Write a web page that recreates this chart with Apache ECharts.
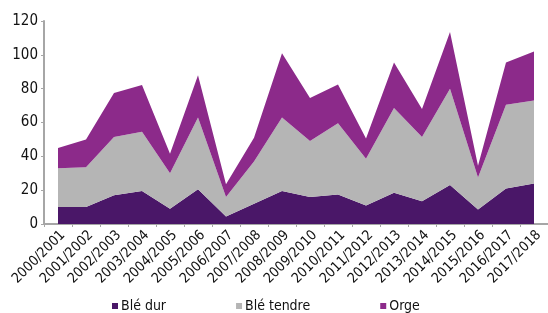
<!DOCTYPE html>
<html>
<head>
<meta charset="utf-8">
<script src="https://cdn.jsdelivr.net/npm/echarts@6/dist/echarts.min.js"></script>
<style>
  html, body { margin: 0; padding: 0; background: #fff; }
  #chart { width: 548px; height: 313px; }
</style>
</head>
<body>
<div id="chart"></div>
<script>
// campagnes
const campagnes = [
  '2000/2001', '2001/2002', '2002/2003', '2003/2004', '2004/2005', '2005/2006',
  '2006/2007', '2007/2008', '2008/2009', '2009/2010', '2010/2011', '2011/2012',
  '2012/2013', '2013/2014', '2014/2015', '2015/2016', '2016/2017', '2017/2018'
]
const bleDur = [10, 10, 17, 19.5, 9, 20.5, 4.5, 12, 19.5, 16, 17.5, 11, 18.5, 13.5, 23, 8.5, 21, 24]
const bleTendre = [23, 23.5, 34.5, 35, 21, 42.5, 11.5, 25, 43.5, 33, 42, 27.5, 50, 38, 57, 19, 49.5, 49]
const orge = [12, 16.5, 26, 27.7, 11.5, 25, 7.5, 14, 38, 25.5, 23, 12, 27, 16.5, 33.5, 7, 25, 29]
const yTicks = { min: 0, max: 120, interval: 20 }

const FONT = '"Liberation Sans Narrow", "DejaVu Sans Condensed", sans-serif'
const colors = { dur: '#4a1768', tendre: '#b5b5b5', orge: '#8c2a8a' }

function areaSerie(name, data, color) {
  return {
    name,
    type: 'line',
    stack: 'total',
    data,
    symbol: 'none',
    lineStyle: { width: 0 },
    itemStyle: { color },
    areaStyle: { color, opacity: 1 },
  }
}

const chart = echarts.init(document.getElementById('chart'))
chart.setOption({
  animation: false,
  textStyle: { fontFamily: FONT },
  grid: { left: 44, right: -4, top: 21, bottom: 89, containLabel: false },
  legend: {
    bottom: -5,
    left: 107,
    itemWidth: 6,
    itemHeight: 6,
    itemGap: 70,
    icon: 'rect',
    textStyle: { fontFamily: FONT, fontSize: 14, color: '#111', padding: [0, 0, 0, -2] },
    data: ['Blé dur', 'Blé tendre', 'Orge'],
  },
  xAxis: {
    type: 'category',
    data: campagnes,
    boundaryGap: true,
    axisLine: { lineStyle: { color: '#a6a6a6', width: 2 } },
    axisTick: { show: true, length: 3, lineStyle: { color: '#a6a6a6' } },
    axisLabel: {
      rotate: 45, interval: 0, fontSize: 14, color: '#111', margin: 4,
      verticalAlign: 'top', fontFamily: FONT,
    },
  },
  yAxis: {
    type: 'value',
    min: yTicks.min,
    max: yTicks.max,
    interval: yTicks.interval,
    splitLine: { show: false },
    axisLine: { show: true, lineStyle: { color: '#a6a6a6', width: 2 } },
    axisTick: { show: true, length: 3, lineStyle: { color: '#a6a6a6' } },
    axisLabel: { fontSize: 15, color: '#111', margin: 6, fontFamily: FONT },
  },
  series: [
    areaSerie('Blé dur', bleDur, colors.dur),
    areaSerie('Blé tendre', bleTendre, colors.tendre),
    areaSerie('Orge', orge, colors.orge),
  ],
})
</script>
</body>
</html>
